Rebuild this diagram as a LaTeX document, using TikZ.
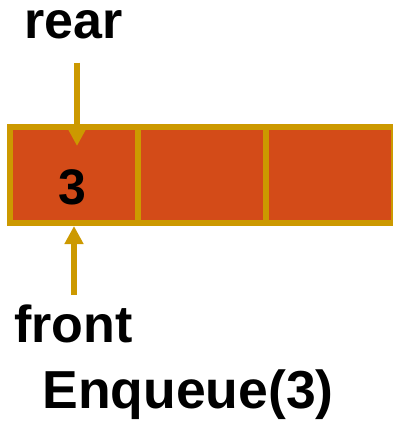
\documentclass[tikz,border=0pt]{standalone}
\usepackage{fontspec}
\setmainfont{Liberation Sans}
\usetikzlibrary{arrows.meta,positioning}

\definecolor{cellred}{RGB}{211,75,24}
\definecolor{gold}{RGB}{204,153,0}

\tikzset{
  cell/.style={draw=gold,fill=cellred,line width=6pt,outer sep=0pt,inner sep=0pt,
               minimum width=128pt,minimum height=96pt},
  tag/.style={font=\bfseries\fontsize{52}{62}\selectfont,inner sep=0pt},
  val/.style={font=\bfseries\fontsize{50}{60}\selectfont,inner sep=0pt},
  ptr/.style={draw=gold,line width=6pt,-{Triangle[length=18pt,width=18pt]}}
}

\begin{document}
\begin{tikzpicture}[x=1pt,y=-1pt]
\useasboundingbox (0,0) rectangle (393,421);

% the queue array, three slots
\node[cell] (c1) at (74,175) {};
\node[cell,right=0pt of c1] (c2) {};
\node[cell,right=0pt of c2] (c3) {};
\node[val] (v1) at ([xshift=-1.5pt,yshift=-12.5pt]c1.center) {3};

% pointers
\node[tag,anchor=base] (rear) at (73.5,38) {rear};
\node[tag,anchor=base] (front) at (73.5,342) {front};
\draw[ptr] ([xshift=3.5pt,yshift=-24pt]rear.south) -- ([xshift=3pt,yshift=-19pt]c1.north);
\draw[ptr] ([xshift=0.5pt,yshift=9pt]front.north) -- ([yshift=-3pt]c1.south);

\node[tag,font=\bfseries\fontsize{53.5}{64}\selectfont,anchor=base] (op) at (188,408) {Enqueue(3)};
\end{tikzpicture}
\end{document}
